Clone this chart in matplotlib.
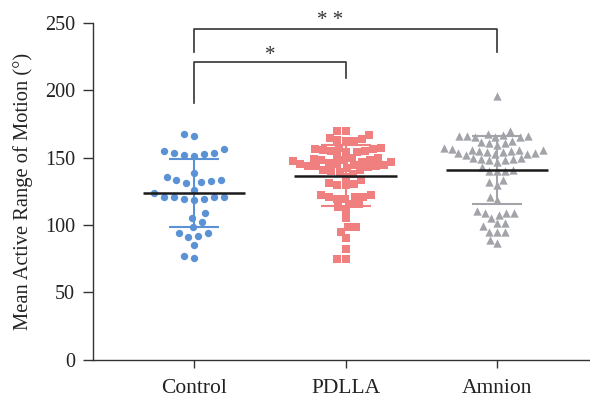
import matplotlib
matplotlib.use("Agg")
import matplotlib.pyplot as plt
import numpy as np
import seaborn as sns

groups = ["Control", "PDLLA", "Amnion"]

control = [165.8, 167.3, 154.6, 153.4, 151.6, 150.9, 152.4, 153.4, 156.1,
           133.3, 132.3, 135.6, 138.5, 130.8, 131.6, 133.6, 126.3,
           121.1, 121.1, 119.4, 118.2, 119.4, 120.9, 120.9, 123.4,
           109.2, 105.5, 102.3, 98.4, 91.1, 93.9, 91.9, 93.9, 85.2, 75.3, 77.0]

pdlla = [170, 170, 166.5, 164.5, 163.5, 162, 162, 162.8,
         157.5, 157, 156.5, 156.5, 155.5, 155, 155, 154.5, 154,
         151, 150, 149.5, 149, 148.5, 148, 148, 147.5, 147, 146.5, 146,
         145, 145, 144.5, 144.5, 144, 144, 143.5, 143, 142.5,
         141, 140.5, 140, 139.5, 138,
         135.5, 133.5, 131, 130.5, 130, 129.5,
         122, 121, 120.5, 119.5, 119.5, 120.5, 122,
         115.5, 115.5, 113, 111,
         105, 98.5, 98.5, 95, 90, 82, 75, 75]

amnion = [195.5,
          169.5, 167, 167.5, 166, 165, 165, 165, 166, 166,
          162.5, 161, 159.5, 161, 161.5,
          155, 153.5, 156, 154, 152.5, 155.5, 157, 153, 155, 156.5, 154, 152, 155.5, 153.5,
          150, 149, 148.5, 148.5, 149, 149.5, 147,
          141, 140, 140, 140, 143,
          133.5, 132, 130,
          121, 118.5,
          109, 109, 105.5, 107, 109, 110.5,
          101.5, 99, 101.5,
          95, 95, 95,
          86.5, 89]

data = [control, pdlla, amnion]
colors = ["#5b92d6", "#f08080", "#a3a4aa"]
markers = ["o", "s", "^"]
sizes = [5.3, 6.0, 6.0]      # marker size drawn
spacing = [7.0, 5.6, 5.5]    # marker size used for the swarm layout (gives the gaps)

plt.rcParams["font.family"] = ["Liberation Serif", "DejaVu Serif"]

fig = plt.figure(figsize=(5.9, 3.98), dpi=100)
ax = fig.add_axes([0.1576, 0.0967, 0.8424, 0.8455])

for i, vals in enumerate(data):
    sns.swarmplot(x=[groups[i]] * len(vals), y=vals, order=groups, ax=ax,
                  color=colors[i], marker=markers[i], size=spacing[i],
                  linewidth=0, warn_thresh=1.0)

ax.set_xlim(-0.667, 2.614)
ax.set_ylim(0, 250)

# let seaborn lay out the swarms, then redraw them with the final marker size
fig.canvas.draw()
swarms = list(ax.collections)
for coll in swarms:
    xy = np.asarray(coll.get_offsets()).copy()
    coll.remove()
    if len(xy) == 0:
        continue
    i = int(round(np.mean(xy[:, 0])))
    ax.scatter(xy[:, 0], xy[:, 1], s=sizes[i] ** 2, marker=markers[i],
               color=colors[i], linewidths=0, zorder=2)

# mean line and SD bars
for i, vals in enumerate(data):
    m = np.mean(vals)
    sd = np.std(vals, ddof=1)
    ax.errorbar(i, m, yerr=sd, fmt="none", ecolor=colors[i], elinewidth=1.5,
                capsize=18, capthick=1.5, zorder=3)
    ax.hlines(m, i - 0.337, i + 0.337, color="#1a1a1a", lw=1.8, zorder=4)

# significance brackets
bc = "#333333"
ax.plot([0, 0, 2, 2], [228.6, 245.5, 245.5, 228.6], color=bc, lw=1.2, clip_on=False)
ax.plot([0, 0, 1, 1], [190.6, 220.8, 220.8, 209.2], color=bc, lw=1.2, clip_on=False)
ax.text(0.9, 252, "* *", ha="center", va="center", fontsize=15, color=bc, clip_on=False)
ax.text(0.5, 225.5, "*", ha="center", va="center", fontsize=15, color=bc, clip_on=False)

ax.set_xlim(-0.667, 2.614)
ax.set_ylim(0, 250)
ax.set_yticks([0, 50, 100, 150, 200, 250])
ax.set_ylabel("Mean Active Range of Motion (°)", fontsize=14.8, color="#222222")
ax.yaxis.set_label_coords(-0.12, 0.5)
ax.set_xlabel("")
ax.spines["top"].set_visible(False)
ax.spines["right"].set_visible(False)
for s in ["left", "bottom"]:
    ax.spines[s].set_color("#333333")
    ax.spines[s].set_linewidth(1.0)
ax.tick_params(axis="y", length=7, width=1, color="#333333", labelsize=14.5,
               labelcolor="#222222", pad=6)
ax.tick_params(axis="x", length=6, width=1, color="#333333", labelsize=15.5,
               labelcolor="#222222", pad=8)

fig.savefig("out.png", dpi=100)
